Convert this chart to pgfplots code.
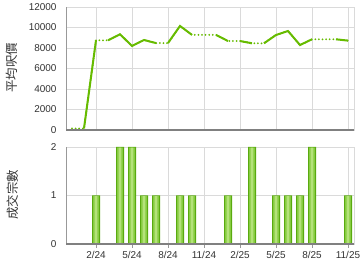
\documentclass[border=0pt]{standalone}
\usepackage{pgfplots}
\usepackage{pgfplotstable}
\pgfplotsset{compat=1.18}
\usepackage{fontspec}
\setmainfont{Liberation Sans}
\newfontfamily\cjk{Noto Sans CJK TC}
\definecolor{lg}{HTML}{66BB00}
\definecolor{gridc}{HTML}{DADADA}
\definecolor{axc}{HTML}{999999}
\definecolor{bard}{HTML}{5AAA10}
\definecolor{barm}{HTML}{86CC40}
\definecolor{barl}{HTML}{B4E27A}
\begin{document}
\begin{tikzpicture}[x=1bp,y=1bp]
\pgfplotsset{
  common/.style={
    scale only axis, width=288bp,
    xmin=-0.5, xmax=23.5,
    xtick={2,5,8,11,14,17,20,23},
    grid=major, major grid style={draw=gridc, line width=0.8bp},
    axis line style={draw=gridc, line width=0.8bp},
    tick style={draw=axc},
    ytick style={draw=none},
    scaled y ticks=false,
    /pgf/number format/assume math mode=true,
    /pgf/number format/1000 sep={},
    ticklabel style={font=\fontsize{10}{12}\selectfont, text=black!80},
    yticklabel style={xshift=-6bp},
    clip=false,
  }
}
\pgfplotstableread{
m c
2 1
4 2
5 2
6 1
7 1
9 1
10 1
13 1
15 2
17 1
18 1
19 1
20 2
23 1
}\counts
% Top: average price per sq ft
\begin{axis}[common, at={(66bp,140bp)}, anchor=south west, height=123bp,
  ymin=0, ymax=12000, ytick={0,2000,4000,6000,8000,10000,12000},
  xticklabels={}, xtick style={draw=none}]
\addplot[lg, line width=2bp, line cap=round, dash pattern=on 0bp off 3.6bp] coordinates {
 (0,150) (1,150) (2,8750) (3,8750) (4,9340) (5,8200) (6,8780) (7,8480) (8,8480)
 (9,10150) (10,9280) (11,9280) (12,9280) (13,8680) (14,8680) (15,8460) (16,8460)
 (17,9270) (18,9660) (19,8290) (20,8850) (21,8850) (22,8850) (23,8720)};
\addplot[lg, line width=2bp, unbounded coords=jump] coordinates {
 (1,150) (2,8750) (2.5,nan)
 (3,8750) (4,9340) (5,8200) (6,8780) (7,8480) (7.5,nan)
 (8,8480) (9,10150) (10,9280) (10.5,nan)
 (12,9280) (13,8680) (13.5,nan)
 (14,8680) (15,8460) (15.5,nan)
 (16,8460) (17,9270) (18,9660) (19,8290) (20,8850) (20.5,nan)
 (22,8850) (23,8720)};
\draw[axc, line width=0.8bp] (rel axis cs:0,0) -- (rel axis cs:0,1);
\draw[black!50, line width=1.5bp] (rel axis cs:0,0) -- (rel axis cs:1,0);
\end{axis}
% Bottom: number of transactions
\begin{axis}[common, at={(66bp,26bp)}, anchor=south west, height=97bp,
  ymin=0, ymax=2, ytick={0,1,2},
  xticklabels={2/24,5/24,8/24,11/24,2/25,5/25,8/25,11/25},
  xtick pos=bottom, xtick align=outside, major tick length=4bp]
\addplot[ybar, bar shift=0pt, bar width=8bp, fill=bard, draw=none] table[x=m, y=c] {\counts};
\addplot[ybar, bar shift=0pt, bar width=5.6bp, fill=barm, draw=none] table[x=m, y expr=\thisrow{c}-0.012] {\counts};
\addplot[ybar, bar shift=0pt, bar width=2.8bp, fill=barl, draw=none] table[x=m, y expr=\thisrow{c}-0.012] {\counts};
\draw[axc, line width=0.8bp] (rel axis cs:0,0) -- (rel axis cs:0,1);
\draw[black!50, line width=1.5bp] (rel axis cs:0,0) -- (rel axis cs:1,0);
\end{axis}
\node[rotate=90, font=\cjk\fontsize{12.5}{14}\selectfont, text=black!80] at (12bp,202bp) {平均呎價};
\node[rotate=90, font=\cjk\fontsize{12.5}{14}\selectfont, text=black!80] at (13bp,75bp) {成交宗數};
\pgfresetboundingbox
\path[use as bounding box] (0,0) rectangle (360bp,270bp);
\end{tikzpicture}
\end{document}
